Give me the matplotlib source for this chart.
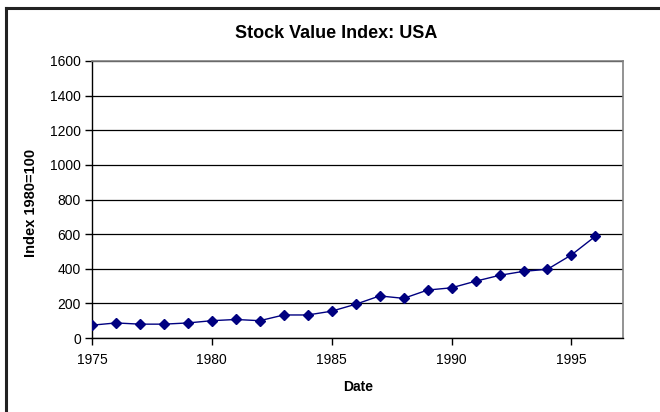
import numpy as np
import matplotlib.pyplot as plt
import matplotlib as mpl

mpl.rcParams['font.family'] = ['Liberation Sans', 'DejaVu Sans']

years = [1975, 1976, 1977, 1978, 1979, 1980, 1981, 1982, 1983, 1984, 1985,
         1986, 1987, 1988, 1989, 1990, 1991, 1992, 1993, 1994, 1995, 1996]
index = [74, 87, 80, 80, 87, 100, 107, 100, 133, 133, 155,
         195, 243, 229, 277, 290, 328, 362, 385, 397, 480, 588]
yticks = [0, 200, 400, 600, 800, 1000, 1200, 1400, 1600]
xticks = [1975, 1980, 1985, 1990, 1995]

W, H = 660, 412
fig = plt.figure(figsize=(W / 100, H / 100), dpi=100)

# outer chart border (only left and top visible in the crop)
fig.add_artist(plt.Line2D([6.5 / W, 6.5 / W], [0, 1 - 7.5 / H], color='#222222', lw=2.2,
                          transform=fig.transFigure))
fig.add_artist(plt.Line2D([6.5 / W, 1], [1 - 7.5 / H, 1 - 7.5 / H], color='#222222', lw=2.2,
                          transform=fig.transFigure))

left, right, top, bottom = 92, 623, 61, 338
ax = fig.add_axes([left / W, 1 - bottom / H, (right - left) / W, (bottom - top) / H])

ax.plot(years, index, color='#000080', lw=1.0, marker='D', markersize=5.5,
        markerfacecolor='#000080', markeredgecolor='#000080', zorder=5)

ax.set_xlim(1975, 1997.15)
ax.set_ylim(0, 1600)
ax.set_yticks(yticks)
ax.set_xticks(xticks)
ax.yaxis.grid(True, color='black', lw=0.9)
ax.set_axisbelow(True)

for s in ['top', 'right']:
    ax.spines[s].set_color('#808080')
    ax.spines[s].set_linewidth(1.2)
for s in ['left', 'bottom']:
    ax.spines[s].set_color('black')
    ax.spines[s].set_linewidth(1.0)

ax.tick_params(axis='both', direction='out', length=5, width=1, labelsize=10, colors='black')
ax.tick_params(axis='x', pad=6)
ax.tick_params(axis='y', pad=3)

fig.text(336 / W, 1 - 33 / H, 'Stock Value Index: USA', ha='center', va='center',
         fontsize=13, fontweight='bold')
fig.text(358 / W, 1 - 387 / H, 'Date', ha='center', va='center', fontsize=10, fontweight='bold')
fig.text(31 / W, 1 - 203 / H, 'Index 1980=100', ha='center', va='center', rotation=90,
         fontsize=10.5, fontweight='bold')

plt.savefig('out.png', dpi=100)
